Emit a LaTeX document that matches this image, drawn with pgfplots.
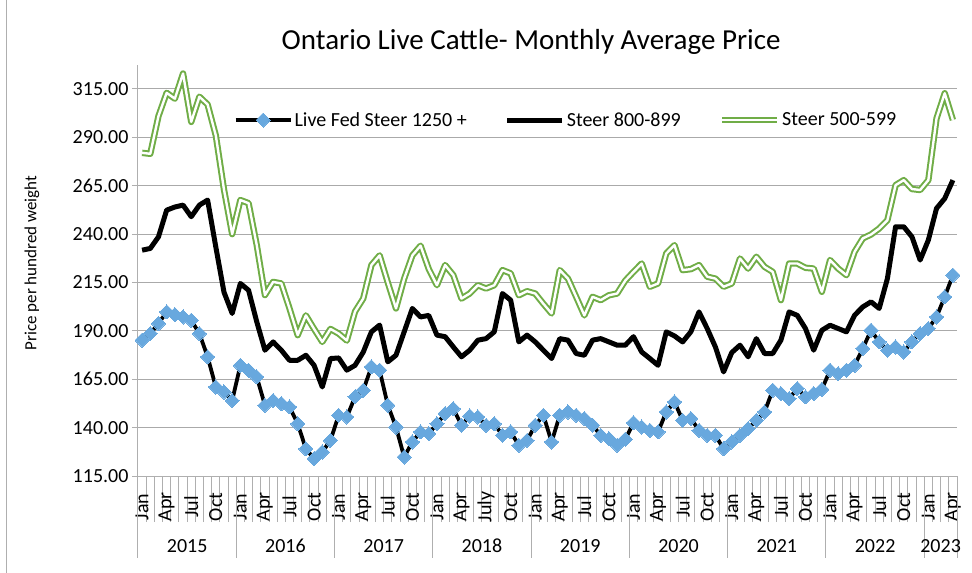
\documentclass[border=0pt]{standalone}
\usepackage{pgfplots}
\pgfplotsset{compat=1.18}
\usepackage{pgfplotstable}
\usepackage{fontspec}
\setmainfont{Carlito}
\definecolor{gridgray}{RGB}{170,170,170}
\definecolor{axgray}{RGB}{175,175,175}
\definecolor{bluem}{RGB}{104,168,222}
\definecolor{greenl}{RGB}{112,173,71}

\pgfplotstableread{
x blue black green
0.5 185.2 231.7 282
1.5 188.6 232.6 281.5
2.5 193.8 238.6 301
3.5 199.8 252.4 313
4.5 198.4 254 310
5.5 197.2 255 323
6.5 195.5 249 298
7.5 188.6 255 311
8.5 176.6 257.6 307
9.5 161 233.4 291
10.5 158.4 210 263
11.5 154 199 240
12.5 172.2 214.5 257.6
13.5 169.7 211 256
14.5 166.2 194.7 234.3
15.5 151.6 180 208.5
16.5 154 184.3 215.3
17.5 152.4 180 214.5
18.5 150.7 174.8 201.6
19.5 142 174.8 187.8
20.5 129 177.4 198
21.5 124 172.2 191
22.5 127.4 161 184.3
23.5 133.4 175.7 191
24.5 146.4 176 188.6
25.5 145.5 169.7 185
26.5 155.9 172.2 200
27.5 159.3 179 206.7
28.5 171.4 189.5 224
29.5 169.7 193 229
30.5 151.6 174 215
31.5 140.3 177.4 201.6
32.5 124.8 189.5 217
33.5 132.6 201.6 229
34.5 137.8 197.2 234
35.5 136.9 198 222
36.5 142 187.8 213.6
37.5 147.2 187 224
38.5 149.8 181.7 218.8
39.5 141.2 176.6 206.7
40.5 146 180 209.3
41.5 145.5 185.2 213.6
42.5 141.2 186 211.9
43.5 142 189.5 213.6
44.5 136 209.3 221.4
45.5 137.8 205.9 219.7
46.5 130.9 184.3 208.4
47.5 133.4 187.8 210.5
48.5 141.2 184.3 209.3
49.5 146.4 180 204
50.5 132.6 175.7 199
51.5 146.4 186 221.4
52.5 148.1 185.2 217
53.5 146.4 178.3 207.6
54.5 144.7 177.4 198
55.5 141.2 185.2 207.6
56.5 136 186 205.9
57.5 134.3 184.3 208.4
58.5 130.9 182.6 209.3
59.5 134 182.6 216
60.5 142.5 187 220.5
61.5 140.3 179.1 224.8
62.5 138.6 175.7 212.8
63.5 137.8 172.2 214.5
64.5 148.1 189.5 230
65.5 153.3 187.4 234.3
66.5 143.8 184.3 221.4
67.5 144.7 189.5 221.9
68.5 138.6 199.8 224
69.5 136 191.2 218
70.5 136 181.7 217
71.5 129.1 168.8 212.8
72.5 132.6 178.8 214.5
73.5 136 182.6 227.4
74.5 139.5 176.6 222.2
75.5 143.8 186 228.3
76.5 148.1 178.3 223.1
77.5 159.3 178.3 220.5
78.5 157.6 185.2 205.9
79.5 155 199.8 224.8
80.5 160.2 198 224.8
81.5 155.9 191.2 222.6
82.5 157.6 180 222.2
83.5 159.8 190.3 210.2
84.5 169.7 192.9 226.6
85.5 167.9 191.2 222.2
86.5 169.7 189.5 218.8
87.5 172.2 198.1 230.9
88.5 180.9 202.4 237.8
89.5 190.3 205 239.8
90.5 184.3 201.6 242.9
91.5 180 217 247.2
92.5 181.7 243.8 265.3
93.5 179.1 243.8 267.9
94.5 184.3 238.6 263.3
95.5 188.6 226.6 262.8
96.5 191.2 236.9 267.9
97.5 197.2 253.3 299.8
98.5 207.6 258.4 312.8
99.5 218.8 267.9 299
}\data

\begin{document}
\begin{tikzpicture}
\useasboundingbox (-138pt,-97pt) rectangle (834pt,476pt);
\draw[axgray, line width=1pt] (-131pt,-97pt) -- (-131pt,476pt);
\begin{axis}[
  at={(0pt,0pt)}, anchor=south west,
  scale only axis, width=819pt, height=411pt,
  xmin=0, xmax=100, ymin=115, ymax=327.4,
  clip=false,
  axis lines*=left,
  axis line style={axgray, line width=1pt, -},
  tick align=outside,
  major tick length=6pt,
  minor tick length=46pt,
  ytick={115,140,165,190,215,240,265,290,315},
  ymajorgrids,
  grid style={gridgray, line width=1pt},
  ytick style={axgray, line width=1pt},
  yticklabel={\pgfmathprintnumber[fixed,fixed zerofill,precision=2,assume math mode=true]{\tick}},
  yticklabel style={font=\fontsize{20}{24}\selectfont, anchor=east},
  xtick={0.5,3.5,6.5,9.5,12.5,15.5,18.5,21.5,24.5,27.5,30.5,33.5,36.5,39.5,42.5,45.5,48.5,51.5,54.5,57.5,60.5,63.5,66.5,69.5,72.5,75.5,78.5,81.5,84.5,87.5,90.5,93.5,96.5,99.5},
  xticklabels={Jan,Apr,Jul,Oct,Jan,Apr,Jul,Oct,Jan,Apr,Jul,Oct,Jan,Apr,July,Oct,Jan,Apr,Jul,Oct,Jan,Apr,Jul,Oct,Jan,Apr,Jul,Oct,Jan,Apr,Jul,Oct,Jan,Apr},
  major x tick style={draw=none},
  minor xtick={0,1,...,100},
  minor tick style={axgray, line width=1pt},
  xticklabel style={font=\fontsize{20}{24}\selectfont, rotate=90, anchor=center, xshift=-25pt},
  title={Ontario Live Cattle- Monthly Average Price},
  title style={at={(axis description cs:0.48,1.0414)}, anchor=center, font=\fontsize{29}{34}\selectfont},
  ylabel={Price per hundred weight},
  ylabel style={at={(axis description cs:-0.1294,0.518)}, anchor=center, font=\fontsize{17}{20}\selectfont},
  legend columns=3,
  legend cell align=left,
  legend style={at={(rel axis cs:0.5226,0.866)}, anchor=center, draw=none, fill=none,
    font=\fontsize{20}{24}\selectfont, /tikz/every even column/.append style={column sep=36pt}},
  legend image code/.code={\draw[mark repeat=2,mark phase=2,#1] plot coordinates {(0pt,0pt) (27.5pt,0pt) (55pt,0pt)};},
]
\addplot[black, line width=3.8pt, line join=round, mark=square*, mark size=5pt,
  mark options={rotate=45, fill=bluem, draw=bluem, line width=0pt}] table[x=x,y=blue]{\data};
\addlegendentry{Live Fed Steer 1250 +}
\addplot[black, line width=5pt, line join=round] table[x=x,y=black]{\data};
\addlegendentry{Steer 800-899}
\addplot[greenl, line width=2pt, double=white, double distance=2.4pt, line join=round] table[x=x,y=green]{\data};
\addlegendentry{Steer 500-599}
\pgfplotsinvokeforeach{0,12,24,36,48,60,72,84,96,100}{
  \draw[axgray, line width=1pt] (axis cs:#1,115) -- ++(0pt,-82pt);
}
\node[font=\fontsize{20}{24}\selectfont] at ([yshift=-70pt]axis cs:6,115) {2015};
\node[font=\fontsize{20}{24}\selectfont] at ([yshift=-70pt]axis cs:18,115) {2016};
\node[font=\fontsize{20}{24}\selectfont] at ([yshift=-70pt]axis cs:30,115) {2017};
\node[font=\fontsize{20}{24}\selectfont] at ([yshift=-70pt]axis cs:42,115) {2018};
\node[font=\fontsize{20}{24}\selectfont] at ([yshift=-70pt]axis cs:54,115) {2019};
\node[font=\fontsize{20}{24}\selectfont] at ([yshift=-70pt]axis cs:66,115) {2020};
\node[font=\fontsize{20}{24}\selectfont] at ([yshift=-70pt]axis cs:78,115) {2021};
\node[font=\fontsize{20}{24}\selectfont] at ([yshift=-70pt]axis cs:90,115) {2022};
\node[font=\fontsize{20}{24}\selectfont] at ([yshift=-70pt]axis cs:98,115) {2023};
\end{axis}
\end{tikzpicture}
\end{document}
